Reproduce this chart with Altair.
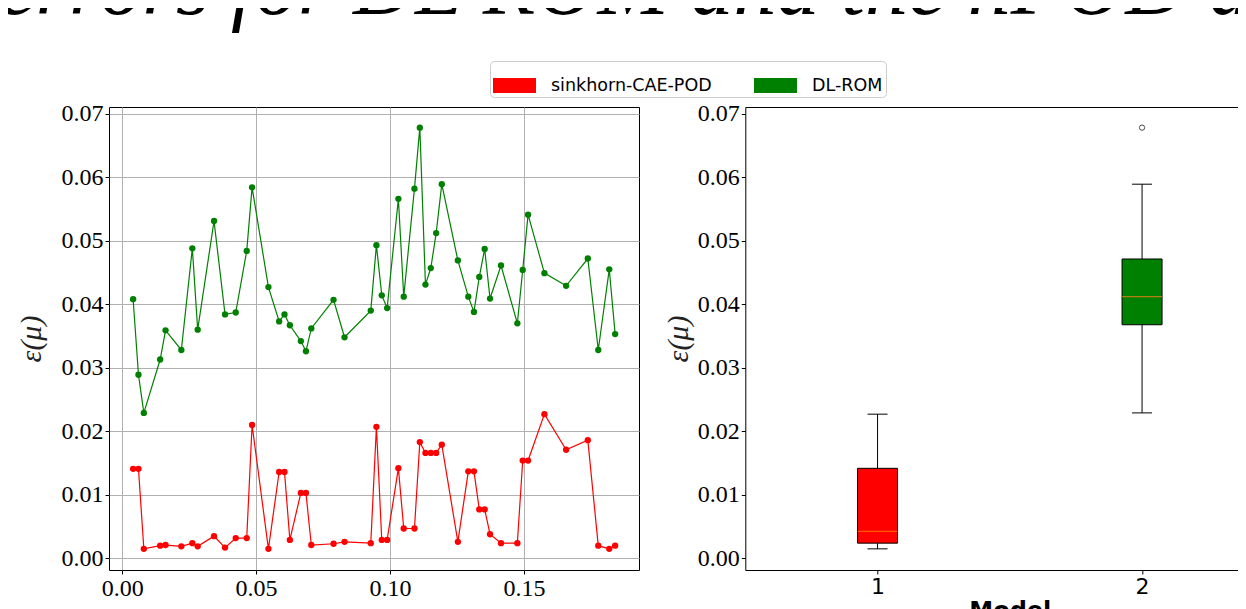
import altair as alt
import pandas as pd

# ---- data ----
mu = [0.0041, 0.0061, 0.0081, 0.0142, 0.0162, 0.0221, 0.0262, 0.0282, 0.0343, 0.0384,
      0.0424, 0.0465, 0.0485, 0.0546, 0.0586, 0.0606, 0.0626, 0.0667, 0.0686, 0.0706,
      0.0789, 0.0830, 0.0928, 0.0949, 0.0969, 0.0989, 0.1031, 0.1051, 0.1091, 0.1111,
      0.1132, 0.1152, 0.1172, 0.1193, 0.1253, 0.1292, 0.1313, 0.1333, 0.1353, 0.1373,
      0.1414, 0.1475, 0.1495, 0.1515, 0.1576, 0.1657, 0.1738, 0.1777, 0.1818, 0.1840]

err_sinkhorn = [0.0141, 0.0141, 0.0015, 0.0020, 0.0021, 0.0019, 0.0024, 0.0019, 0.0035, 0.0017,
                0.0032, 0.0032, 0.0210, 0.0015, 0.0136, 0.0136, 0.0029, 0.0103, 0.0103, 0.0021,
                0.0023, 0.0026, 0.0024, 0.0207, 0.0029, 0.0029, 0.0142, 0.0047, 0.0047, 0.0183,
                0.0166, 0.0166, 0.0166, 0.0179, 0.0026, 0.0137, 0.0137, 0.0077, 0.0077, 0.0038,
                0.0024, 0.0024, 0.0154, 0.0154, 0.0227, 0.0171, 0.0186, 0.0020, 0.0015, 0.0020]

err_dlrom = [0.0408, 0.0289, 0.0229, 0.0313, 0.0359, 0.0328, 0.0488, 0.0360, 0.0531, 0.0384,
             0.0387, 0.0484, 0.0584, 0.0427, 0.0373, 0.0384, 0.0367, 0.0342, 0.0326, 0.0362,
             0.0407, 0.0348, 0.0390, 0.0493, 0.0414, 0.0394, 0.0566, 0.0412, 0.0582, 0.0678,
             0.0431, 0.0457, 0.0512, 0.0589, 0.0469, 0.0412, 0.0388, 0.0443, 0.0487, 0.0409,
             0.0461, 0.0370, 0.0454, 0.0541, 0.0449, 0.0429, 0.0472, 0.0328, 0.0455, 0.0353]

models = ["sinkhorn-CAE-POD", "DL-ROM"]
model_ids = ["1", "2"]
colors = ["#ff0000", "#008000"]
y_ticks = [0.00, 0.01, 0.02, 0.03, 0.04, 0.05, 0.06, 0.07]
x_ticks = [0.00, 0.05, 0.10, 0.15]
title_text = "errors for DL ROM and the nPOD a"

df = pd.DataFrame({
    "mu": mu + mu,
    "err": err_sinkhorn + err_dlrom,
    "model": [models[0]] * len(mu) + [models[1]] * len(mu),
    "id": [model_ids[0]] * len(mu) + [model_ids[1]] * len(mu),
})

serif = "Liberation Serif"
sans = "DejaVu Sans"

y_scale = alt.Scale(domain=[-0.00183, 0.07105], nice=False, zero=False)
color_scale = alt.Scale(domain=models, range=colors)


def y_axis(title_pad, grid):
    return alt.Axis(values=y_ticks, format=".2f", title="ε(μ)",
                    labelFont=serif, labelFontSize=24, labelColor="black", labelPadding=2,
                    titleFont=serif, titleFontSize=30, titleFontWeight="normal",
                    titleFontStyle="italic", titleColor="#222", titlePadding=title_pad,
                    tickColor="black", tickSize=4, domain=False,
                    grid=grid, gridColor="#b0b0b0")


# ---- left panel: error vs mu ----
base = alt.Chart(df).encode(
    x=alt.X("mu:Q", scale=alt.Scale(domain=[-0.0049, 0.1929], nice=False, zero=False),
            axis=alt.Axis(values=x_ticks, format=".2f", title="μ",
                          labelFont=serif, labelFontSize=24, labelColor="black", labelPadding=2,
                          titleFont=serif, titleFontSize=30, titleFontWeight="normal",
                          titleFontStyle="italic", titleColor="#222", titlePadding=2,
                          tickColor="black", tickSize=4, domain=False,
                          grid=True, gridColor="#b0b0b0")),
    y=alt.Y("err:Q", scale=y_scale, axis=y_axis(15, True)),
    color=alt.Color("model:N", scale=color_scale, legend=alt.Legend(
        title=None, orient="none", legendX=381, legendY=-46, direction="horizontal",
        symbolType="M-1,-0.35L1,-0.35L1,0.35L-1,0.35Z", symbolSize=1849,
        symbolStrokeWidth=0, symbolOpacity=1,
        labelFont=sans, labelFontSize=17.5, labelColor="black", labelOffset=15,
        labelLimit=400, columnPadding=42, padding=3, strokeColor="#cccccc",
        cornerRadius=4, fillColor="white")),
)

points = base.mark_circle(size=40, opacity=1)
lines = base.mark_line(strokeWidth=1.2)
left = alt.layer(points, lines).properties(width=530, height=463)

# ---- right panel: box plots ----
x_box = alt.X("id:N", scale=alt.Scale(type="point", padding=0.5),
              axis=alt.Axis(title="Model", labelAngle=0, labelFont=sans, labelFontSize=22,
                            labelColor="black", labelPadding=2,
                            titleFont=sans, titleFontSize=24, titleFontWeight="bold",
                            titleColor="black", titlePadding=2,
                            tickColor="black", tickSize=4, domain=False, grid=False))
y_box = alt.Y("err:Q", scale=y_scale, axis=y_axis(4, False))

box = alt.Chart(df).mark_boxplot(
    extent=1.5, size=40, outliers=False,
    box={"stroke": "black", "strokeWidth": 1},
    median={"color": "#ff7f0e", "thickness": 1.2},
    rule={"color": "black", "strokeWidth": 1},
    ticks={"color": "black", "size": 20},
).encode(
    x=x_box, y=y_box,
    color=alt.Color("model:N", scale=color_scale, legend=None),
)

outliers = alt.Chart(df).transform_joinaggregate(
    q1="q1(err)", q3="q3(err)", groupby=["id"]
).transform_calculate(
    lo="datum.q1 - 1.5 * (datum.q3 - datum.q1)",
    hi="datum.q3 + 1.5 * (datum.q3 - datum.q1)",
).transform_filter(
    "datum.err < datum.lo || datum.err > datum.hi"
).mark_point(shape="circle", filled=False, color="black", size=28, strokeWidth=1).encode(
    x=x_box, y=y_box,
)

right = alt.layer(box, outliers).properties(width=529, height=463)

chart = alt.hconcat(left, right, spacing=22.3).properties(
    title=alt.TitleParams(text=title_text, font=serif, fontSize=86, fontStyle="italic",
                          fontWeight="normal", color="black", anchor="start", frame="bounds",
                          dx=-17.8, dy=43.6, offset=4, baseline="alphabetic"),
    padding={"left": -11, "top": -63, "right": -37, "bottom": -21},
).configure(
    background="white",
    view=alt.ViewConfig(stroke="black", strokeWidth=1),
)

chart.save("out.html", embed_options={"renderer": "svg", "actions": False})
